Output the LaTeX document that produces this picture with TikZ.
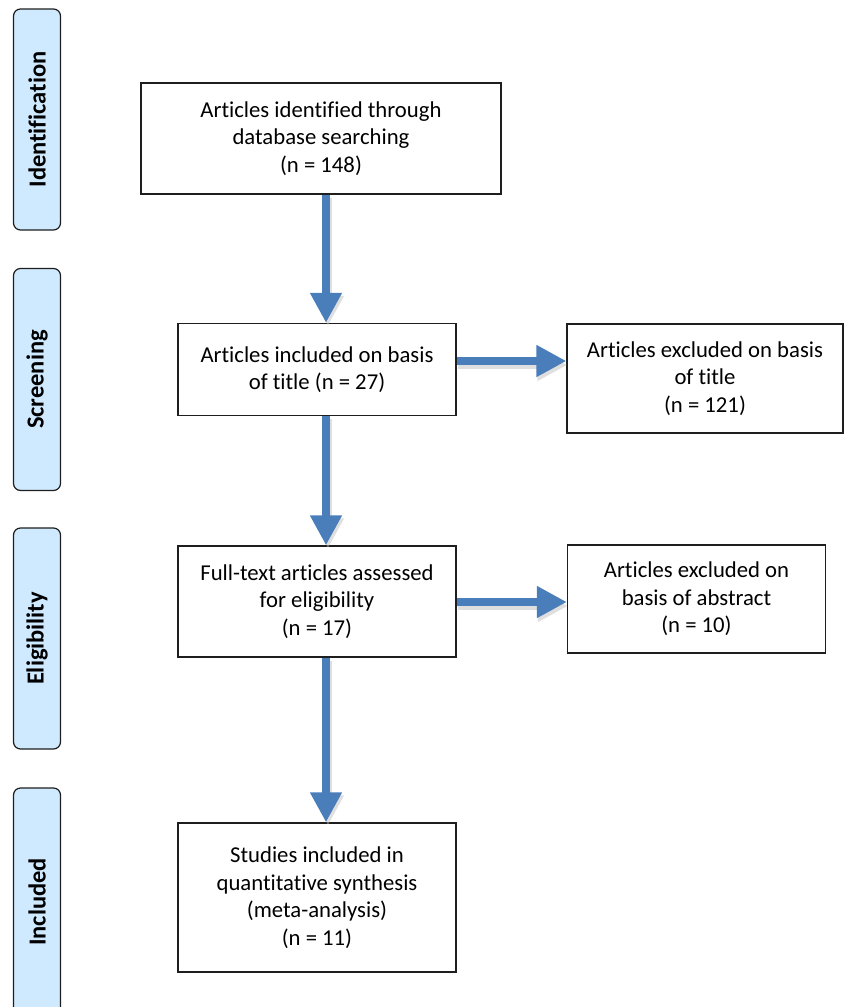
\documentclass[tikz,border=0pt]{standalone}
\usepackage{fontspec}
\setmainfont{Carlito}[Ligatures=NoCommon]
\usetikzlibrary{arrows.meta,calc}
\definecolor{arrowblue}{RGB}{74,126,187}
\definecolor{sidefill}{RGB}{207,234,255}
\definecolor{boxline}{RGB}{30,30,30}
\tikzset{
  mainbox/.style={draw=boxline, line width=1.3pt, fill=white, align=center, inner sep=0pt,
    font=\fontsize{22.7}{27.5}\selectfont},
  sidebox/.style={draw=boxline, line width=1.2pt, fill=sidefill, rounded corners=7pt,
    minimum width=47pt, inner sep=0pt},
  sidelabel/.style={rotate=90, font=\fontsize{24.5}{28}\selectfont\bfseries},
  flowarrow/.style={draw=arrowblue, line width=7.5pt,
    -{Triangle[width=30pt,length=30pt]}, arrowblue},
  shadowarrow/.style={draw=black!25, line width=7.5pt, opacity=0.5,
    -{Triangle[width=30pt,length=30pt]}, black!25}
}
\begin{document}
\begin{tikzpicture}[x=1pt,y=-1pt]
\useasboundingbox (0,0) rectangle (844,1007);
\begin{scope}
\clip (0,0) rectangle (844,1007);
% side boxes
\node[sidebox, minimum height=221pt] (sid) at (37,119.5) {};
\node[sidelabel] (lid) at (sid.center) {Identification};
\node[sidebox, minimum height=222pt] (sscr) at (37,379.5) {};
\node[sidelabel] (lscr) at (sscr.center) {Screening};
\node[sidebox, minimum height=221pt] (selg) at (37,638.5) {};
\node[sidelabel] (lelg) at (selg.center) {Eligibility};
\node[sidebox, minimum height=228pt] (sinc) at (37,902) {};
\node[sidelabel] (linc) at (sinc.center) {Included};
\end{scope}

% main boxes
\node[mainbox, minimum width=360pt, minimum height=111pt] (b1) at (321,138.5)
  {Articles identified through\\database searching\\(n = 148)};
\node[mainbox, minimum width=278pt, minimum height=92pt] (b2) at (317,369.5)
  {Articles included on basis\\of title (n = 27)};
\node[mainbox, minimum width=276pt, minimum height=109pt] (b3) at (705,378.5)
  {Articles excluded on basis\\of title\\(n = 121)};
\node[mainbox, minimum width=278pt, minimum height=111pt] (b4) at (317,601.5)
  {Full-text articles assessed\\for eligibility\\(n = 17)};
\node[mainbox, minimum width=258pt, minimum height=108pt] (b5) at (696.5,599)
  {Articles excluded on\\basis of abstract\\(n = 10)};
\node[mainbox, minimum width=278pt, minimum height=149pt] (b6) at (317,897.5)
  {Studies included in\\quantitative synthesis\\(meta-analysis)\\(n = 11)};

% reference coordinates for arrow lines
\coordinate (vx) at (326,0);
\coordinate (h1) at (0,361);
\coordinate (h2) at (0,602);

% shadows
\draw[shadowarrow] ($(b1.south -| vx)+(2,3)$) -- ($(b2.north -| vx)+(2,3)$);
\draw[shadowarrow] ($(b2.south -| vx)+(2,3)$) -- ($(b4.north -| vx)+(2,3)$);
\draw[shadowarrow] ($(b4.south -| vx)+(2,3)$) -- ($(b6.north -| vx)+(2,3)$);
\draw[shadowarrow] ($(b2.east |- h1)+(1,4)$) -- ($(b3.west |- h1)+(1,4)$);
\draw[shadowarrow] ($(b4.east |- h2)+(1,4)$) -- ($(b5.west |- h2)+(1,4)$);

% arrows
\draw[flowarrow] (b1.south -| vx) -- (b2.north -| vx);
\draw[flowarrow] (b2.south -| vx) -- (b4.north -| vx);
\draw[flowarrow] (b4.south -| vx) -- (b6.north -| vx);
\draw[flowarrow] (b2.east |- h1) -- (b3.west |- h1);
\draw[flowarrow] (b4.east |- h2) -- (b5.west |- h2);
\end{tikzpicture}
\end{document}
